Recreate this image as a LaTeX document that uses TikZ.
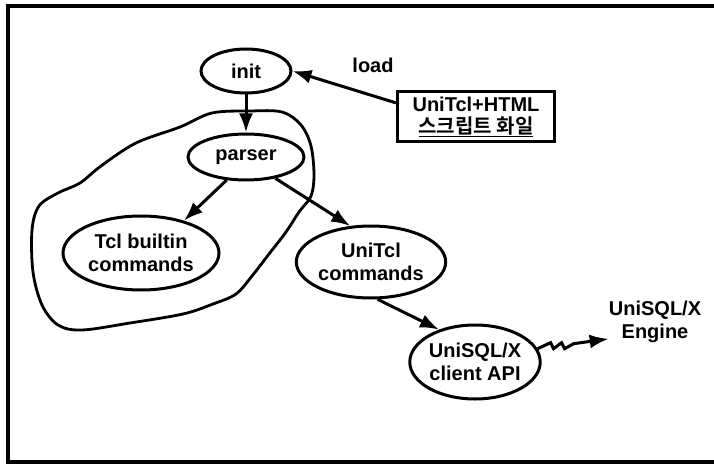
\documentclass[tikz,border=0pt]{standalone}
\usepackage{fontspec}
\setmainfont{Liberation Sans}
\newfontfamily\kor{Noto Sans CJK KR}[BoldFont={* Bold}]
\usetikzlibrary{shapes.geometric,arrows.meta}
\begin{document}
\begin{tikzpicture}[x=1pt,y=-1pt,
  lbl/.style={font=\fontsize{20}{23}\selectfont\bfseries, align=center},
  oval/.style={ellipse, draw, line width=3pt, inner sep=0pt, lbl},
  arr/.style={line width=3pt, -{Latex[length=19pt,width=14pt]}},
]
\useasboundingbox (0,0) rectangle (714,465);
% frame
\draw[line width=4pt] (714,6) -- (8,6) -- (8,462) -- (714,462);
% nodes
\node[oval, minimum width=90, minimum height=44] (init) at (246,71) {init};
\node[oval, minimum width=116, minimum height=46] (parser) at (246,157) {parser};
\node[oval, minimum width=156, minimum height=74] (tcl) at (141,253) {Tcl builtin\\commands};
\node[oval, minimum width=134, minimum height=72] (unitcl) at (371,262) {UniTcl\\commands};
\node[oval, minimum width=130, minimum height=74] (api) at (475,362) {UniSQL/X\\client API};
\node[draw, line width=3pt, minimum width=157, minimum height=50, inner sep=0pt, lbl,
  font=\fontsize{20}{22}\selectfont\bfseries] (box) at (476,117)
  {UniTcl+HTML\\{\kor\bfseries\underline{스크립트 화일}}};
\node[lbl] (load) at (373,65) {load};
\node[lbl, minimum width=90, minimum height=48, inner sep=0pt] (engine) at (655,322) {UniSQL/X\\Engine};
% blob
\draw[line width=2.8pt] plot[smooth cycle, tension=0.55] coordinates {
  (180,127) (212,113) (250,111) (282,112) (301,125) (311,146) (314,175)
  (311,196) (299,212) (286,232) (269,254) (252,276) (236,294) (213,304)
  (183,314) (130,323) (82,330) (58,325) (42,305) (33,272) (32,230)
  (39,206) (58,193) (80,183) (101,166) (136,143)};
% connectors
\draw[arr] (box.170) -- (init.east);
\draw[arr] (init.south) -- (parser.north);
\draw[arr] (parser.-130) -- (tcl.37);
\draw[arr] (parser.-36) -- (unitcl.120);
\draw[arr] (unitcl.-80) -- (api.138);
\draw[arr, line join=miter] (api.12) -- ++(13,-6) -- ++(3,6) -- ++(8,-6) -- ++(3,6) -- ++(9,-5)
  -- (engine.200);
\end{tikzpicture}
\end{document}
